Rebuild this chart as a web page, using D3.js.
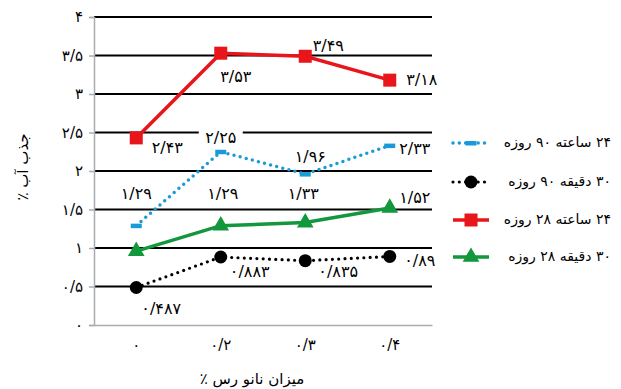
<!DOCTYPE html>
<html>
<head>
<meta charset="utf-8">
<script src="https://cdn.jsdelivr.net/npm/d3@7"></script>
<style>
  html, body { margin: 0; padding: 0; background: #fff; }
  svg { display: block; }
  text { font-family: "DejaVu Sans", sans-serif; fill: #000; }
</style>
</head>
<body>
<svg id="chart" width="621" height="389"></svg>
<script>
// Nano-clay content (x categories)
const categories = ["0", "0.2", "0.3", "0.4"];
const categoryLabels = ["۰", "۰/۲", "۰/۳", "۰/۴"];

// Water absorption (%) per series
const s24h90d = [1.29, 2.25, 1.96, 2.33];
const s30m90d = [0.487, 0.883, 0.835, 0.89];
const s24h28d = [2.43, 3.53, 3.49, 3.18];
const s30m28d = [0.96, 1.29, 1.33, 1.52];

// Value labels as printed (null = no label)
const lbl24h90d = ["۱/۲۹", "۲/۲۵", "۱/۹۶", "۲/۳۳"];
const lbl30m90d = ["۰/۴۸۷", "۰/۸۸۳", "۰/۸۳۵", "۰/۸۹"];
const lbl24h28d = ["۲/۴۳", "۳/۵۳", "۳/۴۹", "۳/۱۸"];
const lbl30m28d = [null, "۱/۲۹", "۱/۳۳", "۱/۵۲"];

const yTicks = [0, 0.5, 1, 1.5, 2, 2.5, 3, 3.5, 4];
const yTickLabels = ["۰", "۰/۵", "۱", "۱/۵", "۲", "۲/۵", "۳", "۳/۵", "۴"];

const legendNames = ["۲۴ ساعته ۹۰ روزه", "۳۰ دقیقه ۹۰ روزه", "۲۴ ساعته ۲۸ روزه", "۳۰ دقیقه ۲۸ روزه"];

const svg = d3.select("#chart");
const plot = { left: 94, right: 432, top: 17, bottom: 325 };

const x = d3.scaleBand().domain(categories).range([plot.left, plot.right]);
const cx = c => x(c) + x.bandwidth() / 2;
const y = d3.scaleLinear().domain([0, 4]).range([plot.bottom, plot.top]);

// Horizontal gridlines
svg.append("g").selectAll("line")
  .data(yTicks.filter(v => v > 0))
  .join("line")
  .attr("x1", plot.left).attr("x2", plot.right)
  .attr("y1", d => y(d)).attr("y2", d => y(d))
  .attr("stroke", "#000").attr("stroke-width", 2);

// Y axis
const yAxis = d3.axisLeft(y).tickValues(yTicks)
  .tickFormat((d, i) => yTickLabels[i]).tickSize(5).tickPadding(6);
const gy = svg.append("g").attr("transform", `translate(${plot.left},0)`).call(yAxis);
gy.select(".domain").attr("stroke", "#a9adb0").attr("stroke-width", 1.5);
gy.selectAll(".tick line").attr("stroke", "#a9adb0").attr("stroke-width", 1.5);
gy.selectAll(".tick text").attr("font-size", 15).attr("font-family", "DejaVu Sans");

// X axis
const xAxis = d3.axisBottom(x).tickFormat((d, i) => categoryLabels[i]).tickSize(0).tickPadding(14);
const gx = svg.append("g").attr("transform", `translate(0,${plot.bottom})`).call(xAxis);
gx.select(".domain").attr("stroke", "#a9adb0").attr("stroke-width", 1.5);
gx.selectAll(".tick text").attr("font-size", 15).attr("font-family", "DejaVu Sans");

// Axis titles
svg.append("text")
  .attr("transform", `translate(28,167) rotate(-90)`)
  .attr("text-anchor", "middle").attr("font-size", 15)
  .attr("direction", "rtl")
  .text("جذب آب ٪");
svg.append("text")
  .attr("x", 252).attr("y", 384)
  .attr("text-anchor", "middle").attr("font-size", 15)
  .attr("direction", "rtl")
  .text("میزان نانو رس ٪");

const line = d3.line().x((d, i) => cx(categories[i])).y(d => y(d));

const series = [
  { values: s24h90d, color: "#1a9ad8", dotted: true, marker: "dash", width: 3.5 },
  { values: s30m90d, color: "#000000", dotted: true, marker: "circle", width: 3.2 },
  { values: s24h28d, color: "#e8151b", dotted: false, marker: "square", width: 3.5 },
  { values: s30m28d, color: "#12973d", dotted: false, marker: "triangle", width: 3.5 }
];

function drawMarker(g, type, color) {
  if (type === "dash") {
    g.append("rect").attr("x", -5.5).attr("y", -2).attr("width", 11).attr("height", 4.5).attr("fill", color);
  } else if (type === "circle") {
    g.append("circle").attr("r", 6.5).attr("fill", color);
  } else if (type === "square") {
    g.append("rect").attr("x", -6.5).attr("y", -6.5).attr("width", 13).attr("height", 13).attr("fill", color);
  } else if (type === "triangle") {
    g.append("path").attr("d", d3.symbol(d3.symbolTriangle, 120)()).attr("fill", color);
  }
}

series.forEach(s => {
  svg.append("path")
    .datum(s.values)
    .attr("d", line)
    .attr("fill", "none")
    .attr("stroke", s.color)
    .attr("stroke-width", s.width)
    .attr("stroke-linecap", s.dotted ? "round" : "butt")
    .attr("stroke-dasharray", s.dotted ? "0 6.3" : null);
  s.values.forEach((v, i) => {
    const g = svg.append("g").attr("transform", `translate(${cx(categories[i])},${y(v)})`);
    drawMarker(g, s.marker, s.color);
  });
});

// Value labels: offsets from each point (dx, dy)
const labelSets = [
  { values: s24h90d, labels: lbl24h90d, offsets: [[0, -31], [0, -13], [5, -17], [25, 4]], knockout: [false, true, false, false] },
  { values: s30m90d, labels: lbl30m90d, offsets: [[25, 22], [29, 15], [33, 12], [30, 5]] },
  { values: s24h28d, labels: lbl24h28d, offsets: [[31, 11], [15, 24], [23, -10], [32, 0]] },
  { values: s30m28d, labels: lbl30m28d, offsets: [[0, 0], [2, -31], [-2, -28], [25, -9]] }
];

labelSets.forEach(ls => {
  ls.values.forEach((v, i) => {
    if (!ls.labels[i]) return;
    const px = cx(categories[i]) + ls.offsets[i][0];
    const py = y(v) + ls.offsets[i][1];
    if (ls.knockout && ls.knockout[i]) {
      svg.append("rect").attr("x", px - 22).attr("y", py - 12).attr("width", 44).attr("height", 17).attr("fill", "#fff");
    }
    svg.append("text")
      .attr("x", px).attr("y", py)
      .attr("text-anchor", "middle")
      .attr("dominant-baseline", "middle")
      .attr("font-size", 16)
      .text(ls.labels[i]);
  });
});

// Legend
const legendY = [143, 182, 220, 257];
series.forEach((s, i) => {
  const ly = legendY[i];
  svg.append("line")
    .attr("x1", 453).attr("x2", 489).attr("y1", ly).attr("y2", ly)
    .attr("stroke", s.color).attr("stroke-width", s.width)
    .attr("stroke-linecap", s.dotted ? "round" : "butt")
    .attr("stroke-dasharray", s.dotted ? "0 6.3" : null);
  const g = svg.append("g").attr("transform", `translate(471,${ly})`);
  drawMarker(g, s.marker, s.color);
  svg.append("text")
    .attr("x", 611).attr("y", ly)
    .attr("direction", "rtl")
    .attr("text-anchor", "start")
    .attr("dominant-baseline", "middle")
    .attr("font-size", 14)
    .text(legendNames[i]);
});
</script>
</body>
</html>
